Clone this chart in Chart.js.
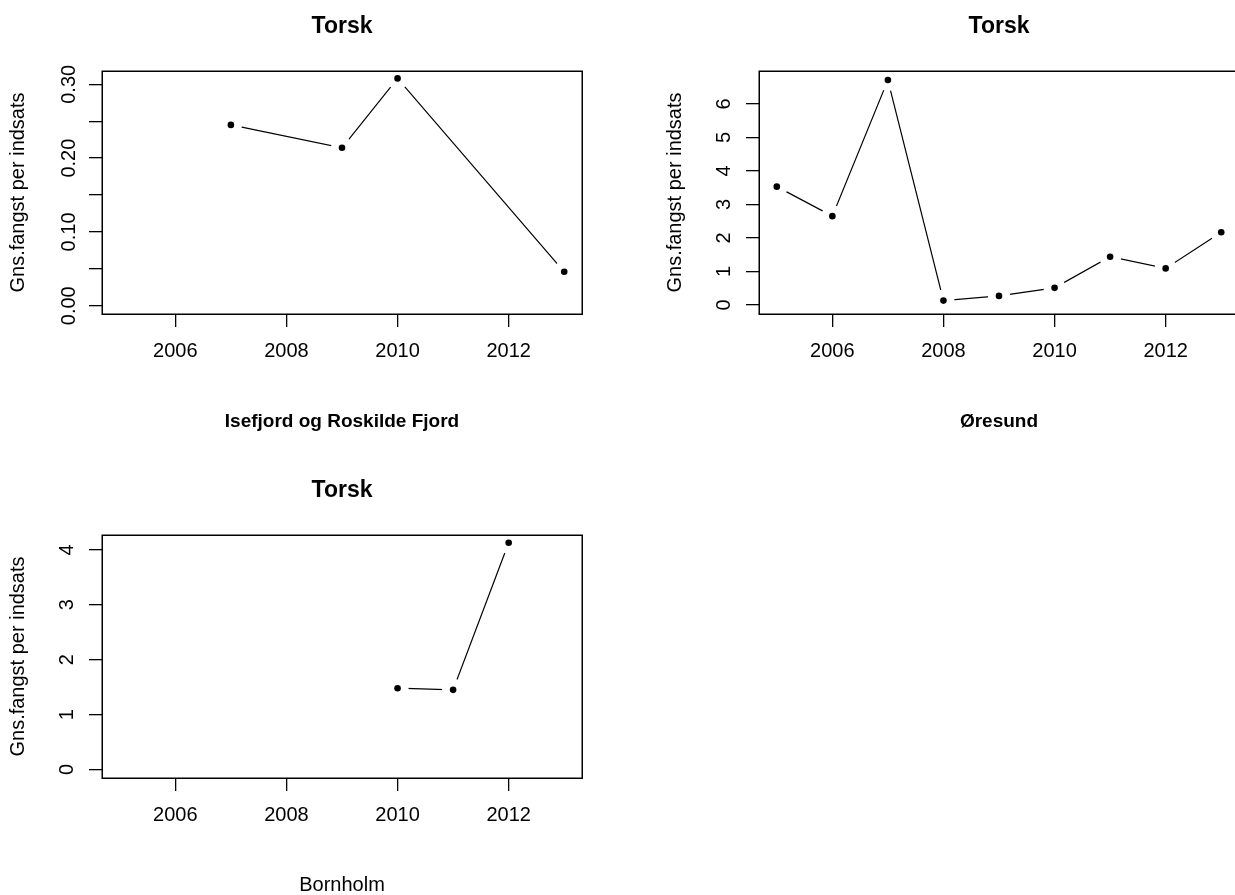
<!DOCTYPE html>
<html>
<head>
<meta charset="utf-8">
<script src="https://cdn.jsdelivr.net/npm/chart.js@4"></script>
<style>
  html, body { margin: 0; padding: 0; background: #fff; overflow: hidden; }
  body { width: 1235px; height: 895px; position: relative; }
  canvas { position: absolute; }
</style>
</head>
<body>
<canvas id="isefjordChart" width="657" height="464" style="left:0;top:0"></canvas>
<canvas id="oresundChart" width="657" height="464" style="left:657px;top:0"></canvas>
<canvas id="bornholmChart" width="657" height="464" style="left:0;top:464px"></canvas>
<script>
const speciesTitle = "Torsk";
const yAxisTitle = "Gns.fangst per indsats";
const xTickYears = [2006, 2008, 2010, 2012];

const isefjordYears = [2007, 2009, 2010, 2013];
const isefjordCatch = [0.245, 0.214, 0.308, 0.046];
const isefjordYTicks = [0, 0.05, 0.10, 0.15, 0.20, 0.25, 0.30];

const oresundYears = [2005, 2006, 2007, 2008, 2009, 2010, 2011, 2012, 2013];
const oresundCatch = [3.53, 2.65, 6.71, 0.13, 0.27, 0.51, 1.44, 1.09, 2.17];
const oresundYTicks = [0, 1, 2, 3, 4, 5, 6];

const bornholmYears = [2010, 2011, 2012];
const bornholmCatch = [1.48, 1.45, 4.13];
const bornholmYTicks = [0, 1, 2, 3, 4];

// plot box inside each 657x464 canvas (R-style panel)
const canvasW = 657;
const canvasH = 464;
const plotTop = 71;
const plotBottom = 314;
const plotLeft = 102;
const plotRight = 582;

Chart.defaults.font.family = "'Liberation Sans', Arial, sans-serif";
Chart.defaults.color = "#000";

const boxPlugin = {
  id: "plotBox",
  afterDraw(chart) {
    const { ctx, chartArea } = chart;
    const l = Math.round(chartArea.left);
    const t = Math.round(chartArea.top);
    const r = Math.round(chartArea.right);
    const b = Math.round(chartArea.bottom);
    ctx.save();
    ctx.strokeStyle = "#000";
    ctx.lineWidth = 1.5;
    ctx.strokeRect(l + 0.25, t + 0.25, r - l, b - t);
    ctx.restore();
  }
};

function createPanel(canvasId, years, values, yTicks, yMin, yMax, yLabel, yLabelPad, subtitle, subtitleBold) {
  const points = years.map((year, i) => ({ x: year, y: values[i] }));
  const titleSize = 23;
  const titlePadTop = 13;
  const subSize = subtitleBold ? 19 : 20;
  const subPadBottom = 30.5;
  const xAxisHeight = canvasH - plotBottom - (subSize * 1.2 + subPadBottom);

  return new Chart(document.getElementById(canvasId), {
    type: "line",
    data: {
      datasets: [
        { data: points, borderColor: "#000", borderWidth: 1.2, pointRadius: 0, tension: 0, order: 3 },
        { data: points, showLine: false, pointRadius: 11, pointBackgroundColor: "#fff", pointBorderWidth: 0, order: 2 },
        { data: points, showLine: false, pointRadius: 3.3, pointBackgroundColor: "#000", pointBorderWidth: 0, order: 1 }
      ]
    },
    options: {
      responsive: false,
      animation: false,
      events: [],
      layout: { padding: { left: 0, top: 0, right: canvasW - plotRight, bottom: 0 } },
      plugins: {
        legend: { display: false },
        tooltip: { enabled: false },
        title: {
          display: true,
          fullSize: false,
          text: speciesTitle,
          color: "#000",
          font: { size: titleSize, weight: "bold" },
          padding: { top: titlePadTop, bottom: plotTop - titlePadTop - titleSize * 1.2 }
        },
        subtitle: {
          display: true,
          fullSize: false,
          position: "bottom",
          text: subtitle,
          color: "#000",
          font: { size: subSize, weight: subtitleBold ? "bold" : "normal" },
          padding: { top: 0, bottom: subPadBottom }
        }
      },
      scales: {
        x: {
          type: "linear",
          min: 2004.68,
          max: 2013.32,
          afterBuildTicks: s => { s.ticks = xTickYears.map(v => ({ value: v })); },
          afterFit: s => { s.height = xAxisHeight; s.paddingLeft = 0; s.paddingRight = 0; },
          grid: { drawOnChartArea: false, color: "#000", lineWidth: 1.3, tickLength: 13 },
          border: { display: false },
          ticks: { color: "#000", font: { size: 20 }, padding: 12, maxRotation: 0, autoSkip: false, callback: v => String(v) }
        },
        y: {
          min: yMin,
          max: yMax,
          afterBuildTicks: s => { s.ticks = yTicks.map(v => ({ value: v })); },
          afterFit: s => { s.width = plotLeft; s.paddingTop = 0; s.paddingBottom = 0; },
          grid: { drawOnChartArea: false, color: "#000", lineWidth: 1.3, tickLength: 13 },
          border: { display: false },
          title: { display: true, text: yAxisTitle, color: "#000", font: { size: 20 }, padding: { top: 6, bottom: 0 } },
          ticks: {
            color: "#000",
            font: { size: 20 },
            minRotation: 90,
            maxRotation: 90,
            crossAlign: "center",
            padding: yLabelPad,
            autoSkip: false,
            callback: yLabel
          }
        }
      }
    },
    plugins: [boxPlugin]
  });
}

createPanel("isefjordChart", isefjordYears, isefjordCatch, isefjordYTicks, -0.0112, 0.318,
  (v, i) => (i % 2 === 0 ? v.toFixed(2) : ""), 0, "Isefjord og Roskilde Fjord", true);

createPanel("oresundChart", oresundYears, oresundCatch, oresundYTicks, -0.27, 6.98,
  v => String(v), 16, "Øresund", true);

createPanel("bornholmChart", bornholmYears, bornholmCatch, bornholmYTicks, -0.155, 4.27,
  v => String(v), 16, "Bornholm", false);
</script>
</body>
</html>
